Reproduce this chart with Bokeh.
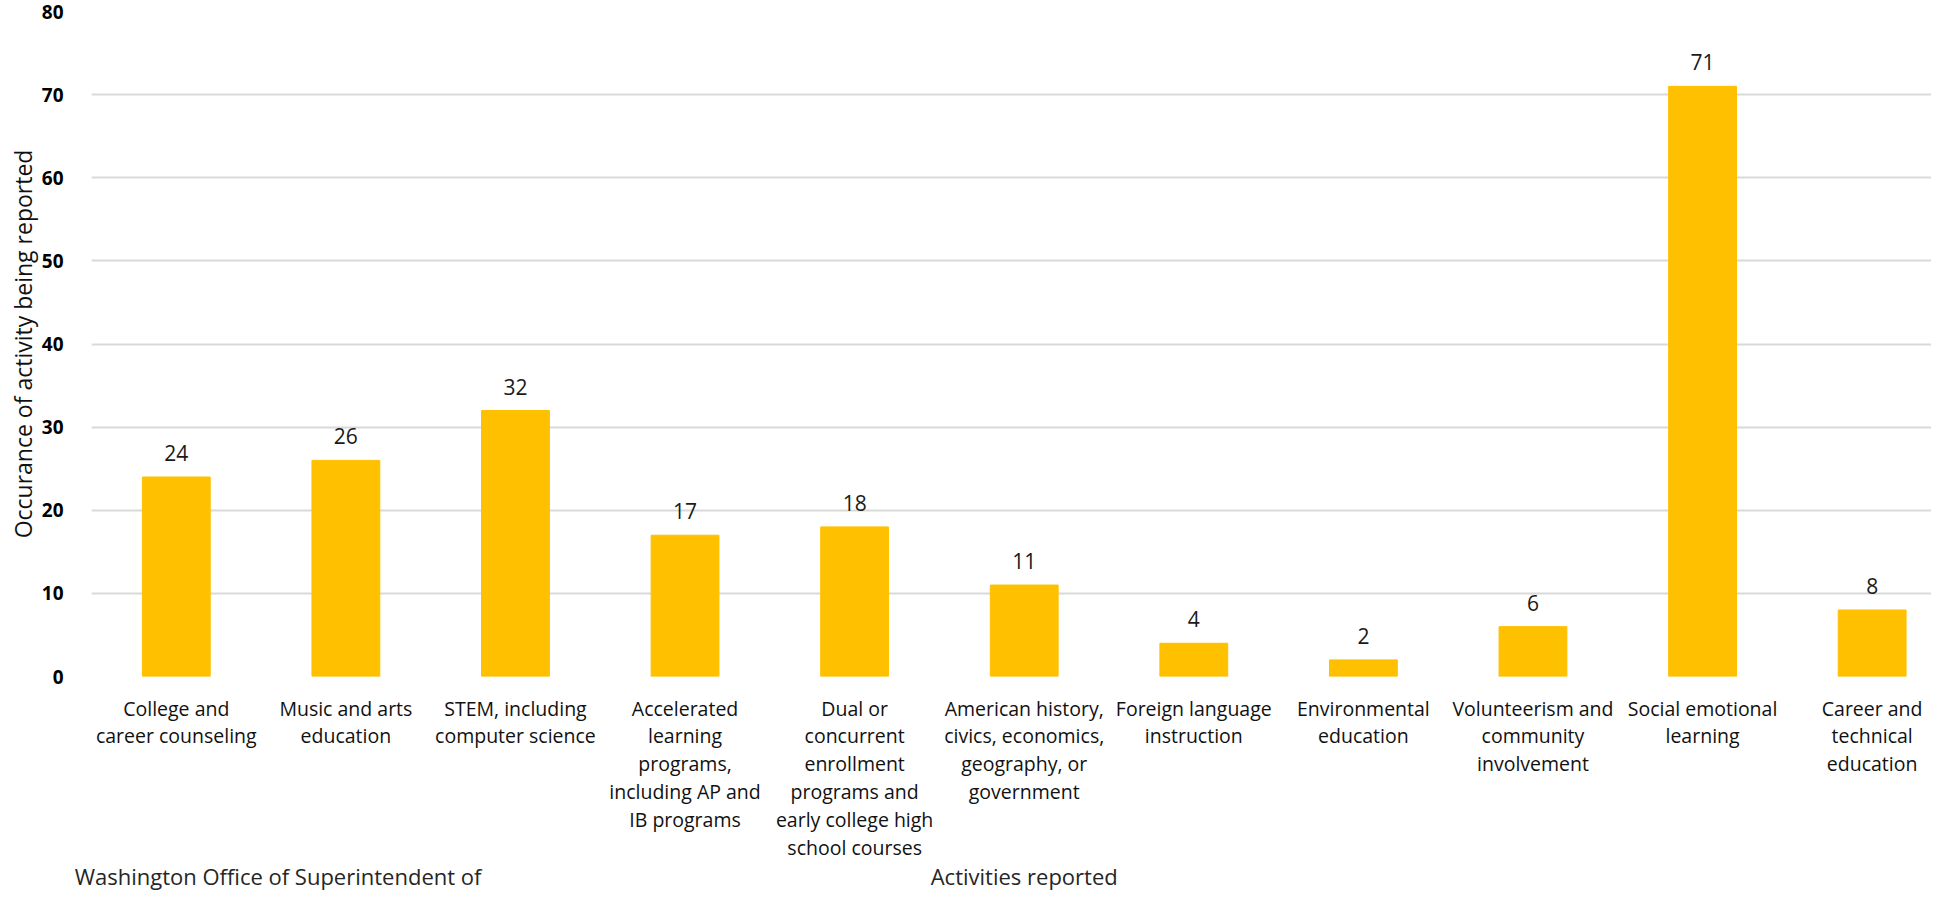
from bokeh.plotting import figure
from bokeh.models import (ColumnDataSource, FixedTicker, Range1d, LabelSet, LinearAxis)
from bokeh.core.properties import value
from bokeh.embed import file_html
from bokeh.resources import INLINE

# ---- data ----
categories = [
    "College and\ncareer counseling",
    "Music and arts\neducation",
    "STEM, including\ncomputer science",
    "Accelerated\nlearning\nprograms,\nincluding AP and\nIB programs",
    "Dual or\nconcurrent\nenrollment\nprograms and\nearly college high\nschool courses",
    "American history,\ncivics, economics,\ngeography, or\ngovernment",
    "Foreign language\ninstruction",
    "Environmental\neducation",
    "Volunteerism and\ncommunity\ninvolvement",
    "Social emotional\nlearning",
    "Career and\ntechnical\neducation",
]
counts = [24, 26, 32, 17, 18, 11, 4, 2, 6, 71, 8]
y_ticks = [0, 10, 20, 30, 40, 50, 60, 70, 80]
x_title = "Activities reported"
y_title = "Occurance of activity being reported"
footer_text = "Washington Office of Superintendent of"

positions = list(range(len(categories)))
source = ColumnDataSource(dict(x=positions, top=counts,
                               label=[str(c) for c in counts]))

FONT = "Open Sans"

p = figure(width=1931, height=897, output_backend="svg", toolbar_location=None,
           x_range=Range1d(-0.5, 10.35), y_range=Range1d(0, 80),
           min_border_left=91, min_border_right=0, min_border_top=11,
           min_border_bottom=221)
p.outline_line_color = None
p.background_fill_color = "white"
p.border_fill_color = "white"

p.vbar(x="x", top="top", width=0.4, source=source, color="#FFC000")

labels = LabelSet(x="x", y="top", text="label", source=source,
                  text_align="center", text_baseline="alphabetic", y_offset=16,
                  text_font=value(FONT), text_font_size=value("21px"),
                  text_color=value("#1a1a1a"))
p.add_layout(labels)

# x axis (categories)
p.xaxis.ticker = FixedTicker(ticks=positions)
p.xaxis.major_label_overrides = {i: c for i, c in zip(positions, categories)}
p.xaxis.axis_line_color = None
p.xaxis.major_tick_line_color = None
p.xaxis.minor_tick_line_color = None
p.xaxis.major_label_text_font = FONT
p.xaxis.major_label_text_font_size = "19.5px"
p.xaxis.major_label_text_color = "#111111"
p.xaxis.major_label_text_line_height = 1.035
p.xaxis.major_label_standoff = 12

# second row below: footer text (left) and x-axis title (centred)
footer_pos = 0.6
title_pos = 5.0
bottom_axis = LinearAxis(ticker=FixedTicker(ticks=[footer_pos, title_pos]),
                         major_label_overrides={footer_pos: footer_text,
                                                title_pos: x_title})
bottom_axis.axis_line_color = None
bottom_axis.major_tick_line_color = None
bottom_axis.minor_tick_line_color = None
bottom_axis.major_label_text_font = FONT
bottom_axis.major_label_text_font_size = "22px"
bottom_axis.major_label_text_color = "#262626"
bottom_axis.major_label_standoff = -10
p.add_layout(bottom_axis, "below")

# y axis
p.yaxis.ticker = FixedTicker(ticks=y_ticks)
p.yaxis.axis_line_color = None
p.yaxis.major_tick_line_color = None
p.yaxis.minor_tick_line_color = None
p.yaxis.major_label_text_font = FONT
p.yaxis.major_label_text_font_style = "bold"
p.yaxis.major_label_text_font_size = "19px"
p.yaxis.major_label_text_color = "#000000"
p.yaxis.major_label_standoff = 22
p.yaxis.axis_label = y_title
p.yaxis.axis_label_text_font = FONT
p.yaxis.axis_label_text_font_style = "normal"
p.yaxis.axis_label_text_font_size = "23px"
p.yaxis.axis_label_text_color = "#111111"
p.yaxis.axis_label_standoff = 0

p.xgrid.grid_line_color = None
p.ygrid.grid_line_color = "#D9D9D9"
p.ygrid.grid_line_width = 2

open("out.html", "w").write(file_html(p, INLINE))
